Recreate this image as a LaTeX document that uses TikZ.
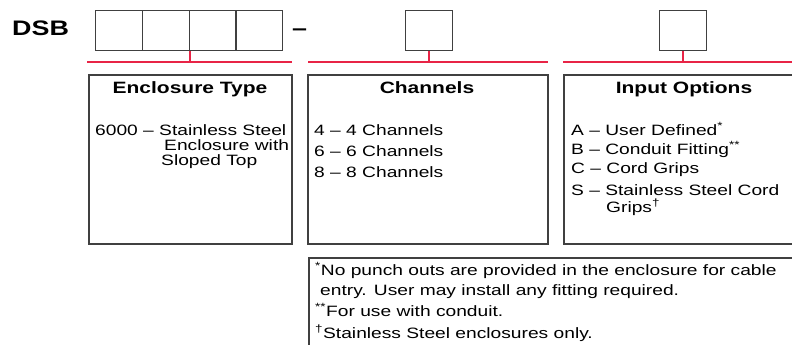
\documentclass[tikz,border=0pt]{standalone}
\usepackage{fontspec}
\newfontfamily\dsbsans[FakeStretch=1.28]{Liberation Sans}
\definecolor{dsbred}{RGB}{232,36,70}
\begin{document}
\begin{tikzpicture}
% DSB ordering code chart
\def\px{1pt}
\providecommand{\dsbRuleColor}{dsbred}
\providecommand{\dsbFrameColor}{black!75}
\providecommand{\dsbRuleWidth}{1.5pt}
\providecommand{\dsbFrameWidth}{1.8pt}
\providecommand{\dsbCellWidth}{46.75pt}
\tikzset{
  cell/.style={draw=\dsbFrameColor, line width=1.4pt, minimum width=\dsbCellWidth, minimum height=40pt, anchor=north west, inner sep=0pt},
  frame/.style={draw=\dsbFrameColor, line width=\dsbFrameWidth, anchor=north west, inner sep=0pt},
  redrule/.style={draw=\dsbRuleColor, line width=\dsbRuleWidth},
  headtext/.style={font=\dsbsans\bfseries\fontsize{21}{21}\selectfont, inner sep=0pt, anchor=base west},
  titletext/.style={font=\dsbsans\bfseries\fontsize{16.4}{16}\selectfont, inner sep=0pt, anchor=base},
  bodytext/.style={font=\dsbsans\fontsize{15}{15}\selectfont, inner sep=0pt, anchor=base west}
}
\begin{scope}[x=\px, y=-\px, line cap=butt, line join=miter]
  \useasboundingbox (0,0) rectangle (792,345);
  \clip (0,0) rectangle (792,345);
  % Code prefix and cells
  \node[headtext] (dsb) at (12,36) {DSB};
  \node[cell] (cellA) at (95,10) {};
  \node[cell] (cellB) at (141.75,10) {};
  \node[cell] (cellC) at (188.5,10) {};
  \node[cell] (cellD) at (235.25,10) {};
  \node[headtext] (dash) at (292,36) {–};
  \node[cell, minimum width=47pt] (chancell) at (405,10) {};
  \node[cell, minimum width=47pt] (inpcell) at (659,10) {};
  % Red rules under each field
  \coordinate (ruleAw) at (87,62);
  \coordinate (ruleAe) at (292,62);
  \coordinate (ruleBw) at (308,62);
  \coordinate (ruleBe) at (548,62);
  \coordinate (ruleCw) at (563,62);
  \coordinate (ruleCe) at (810,62);
  \draw[redrule] (ruleAw) -- (ruleAe);
  \draw[redrule] (ruleBw) -- (ruleBe);
  \draw[redrule] (ruleCw) -- (ruleCe);
  \draw[redrule] (cellB.south east) -- (cellB.south east |- ruleAw);
  \draw[redrule] (chancell.south) -- (chancell.south |- ruleBw);
  \draw[redrule] (inpcell.south) -- (inpcell.south |- ruleCw);
  % Option frames
  \node[frame, minimum width=203pt, minimum height=169pt] (encframe) at (88,74) {};
  \node[frame, minimum width=240pt, minimum height=169pt] (chanframe) at (307,74) {};
  \node[frame, minimum width=242pt, minimum height=169pt] (inpframe) at (563,74) {};
  \node[frame, minimum width=497pt, minimum height=110pt] (footframe) at (308,257) {};
  % Enclosure type
  \node[titletext] (enctitle) at (190,93) {Enclosure Type};
  \node[bodytext] (encA) at (95,135) {6000 – Stainless Steel};
  \node[bodytext] (encB) at (164,150) {Enclosure with};
  \node[bodytext] (encC) at (161,165) {Sloped Top};
  % Channels
  \node[titletext] (chantitle) at (427,93) {Channels};
  \node[bodytext] (chanA) at (314,135) {4 – 4 Channels};
  \node[bodytext] (chanB) at (314,156) {6 – 6 Channels};
  \node[bodytext] (chanC) at (314,177) {8 – 8 Channels};
  % Input options
  \node[titletext] (inptitle) at (684,93) {Input Options};
  \node[bodytext] (inpA) at (571,135) {A – User Defined\textsuperscript{*}};
  \node[bodytext] (inpB) at (571,154) {B – Conduit Fitting\textsuperscript{**}};
  \node[bodytext] (inpC) at (571,173) {C – Cord Grips};
  \node[bodytext] (inpS) at (571,195) {S – Stainless Steel Cord};
  \node[bodytext] (inpT) at (606,212) {Grips\textsuperscript{†}};
  % Footnotes
  \node[bodytext] (footA) at (315,275) {\textsuperscript{*}No punch outs are provided in the enclosure for cable};
  \node[bodytext] (footB) at (320,295) {entry. User may install any fitting required.};
  \node[bodytext] (footC) at (315,316) {\textsuperscript{**}For use with conduit.};
  \node[bodytext] (footD) at (315,338) {\textsuperscript{†}Stainless Steel enclosures only.};
\end{scope}
\end{tikzpicture}
\end{document}
